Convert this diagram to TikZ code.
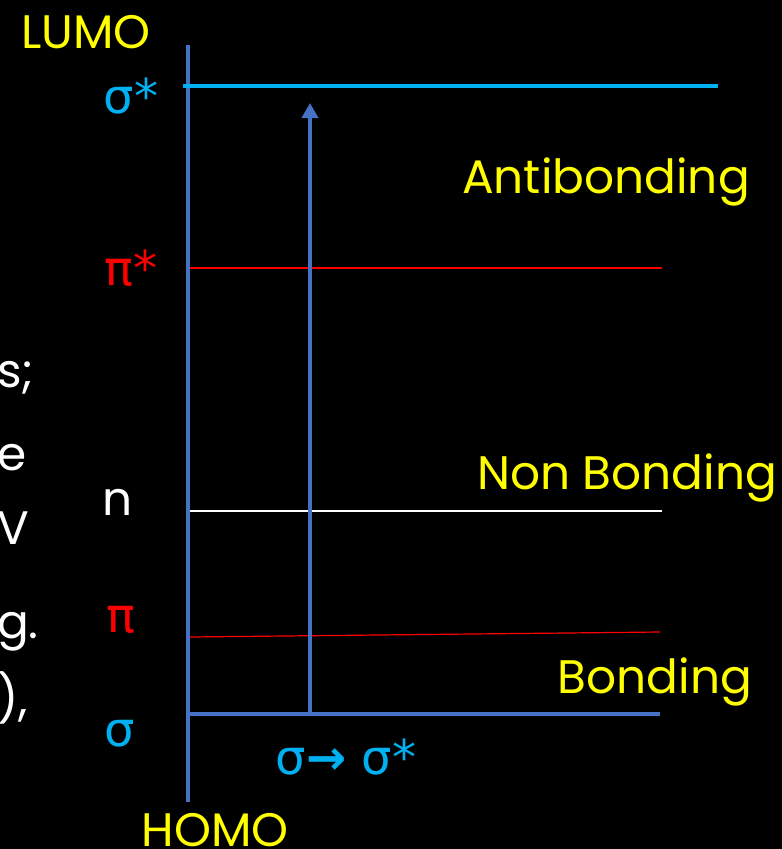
\documentclass[tikz,border=0pt]{standalone}
\usepackage{fontspec}
\setmainfont{Poppins}
\newfontfamily\gk{DejaVu Sans}
\definecolor{axisblue}{HTML}{4472C4}
\definecolor{cyanl}{HTML}{00B0F0}
\definecolor{ylw}{HTML}{FFFF00}
\definecolor{rd}{HTML}{FF0000}
\usetikzlibrary{arrows.meta}
\tikzset{
  lbl/.style={inner sep=0pt, font=\fontsize{47}{52}\selectfont},
  glbl/.style={inner sep=0pt, font=\gk\fontsize{48}{52}\selectfont},
  side/.style={lbl, text=white, anchor=west},
  thinlvl/.style={line width=1.2pt},
}
\begin{document}
\begin{tikzpicture}[x=1pt,y=-1pt]
\fill[black] (0,0) rectangle (782,849);
\useasboundingbox (0,0) rectangle (782,849);
% axis
\coordinate (axT) at (188,45);
\coordinate (axB) at (188,802);
\draw[axisblue, line width=3.2pt] (axT) -- (axB);
% levels
\coordinate (ssL) at (183,86);  \coordinate (ssR) at (718,86);
\coordinate (psL) at (190,268); \coordinate (psR) at (662,268);
\coordinate (nL)  at (190,511); \coordinate (nR)  at (662,511);
\coordinate (pL)  at (190,637); \coordinate (pR)  at (660,632);
\coordinate (sL)  at (190,714); \coordinate (sR)  at (660,714);
\draw[cyanl, line width=3.5pt] (ssL) -- (ssR);
\draw[rd, thinlvl] (psL) -- (psR);
\draw[white, thinlvl] (nL) -- (nR);
\draw[rd, thinlvl] (pL) -- (pR);
\draw[axisblue, line width=3.2pt] (sL) -- (sR);
% arrow
\coordinate (arB) at (310,714);
\coordinate (arT) at (310,103);
\draw[axisblue, line width=3.6pt, -{Triangle[length=15pt,width=16pt]}] (arB) -- (arT);
% labels
\node[lbl, text=ylw] (lumo) at (86,32) {LUMO};
\node[lbl, text=ylw] (homo) at (215,830) {HOMO};
\node[glbl, text=cyanl] (lss) at (131,96) {σ*};
\node[glbl, text=rd] (lps) at (131,268) {π*};
\node[lbl, text=white] (ln) at (118,502) {n};
\node[glbl, text=rd] (lp) at (121,620) {π};
\node[glbl, text=cyanl] (ls) at (120,734) {σ};
\node[lbl, text=ylw] (anti) at (606,182) {Antibonding};
\node[lbl, text=ylw] (nonb) at (627,478) {Non Bonding};
\node[lbl, text=ylw] (bond) at (655,682) {Bonding};
\node[glbl, text=cyanl] (trans) at (346,757) {σ{\bfseries →} σ*};
% left fragments
\node[side] (f1) at (-3,378) {s;};
\node[side] (f2) at (-3,458) {e};
\node[side] (f3) at (-3,528) {V};
\node[side] (f4) at (-3,632) {g.};
\node[side] (f5) at (-3,698) {),};
\end{tikzpicture}
\end{document}
